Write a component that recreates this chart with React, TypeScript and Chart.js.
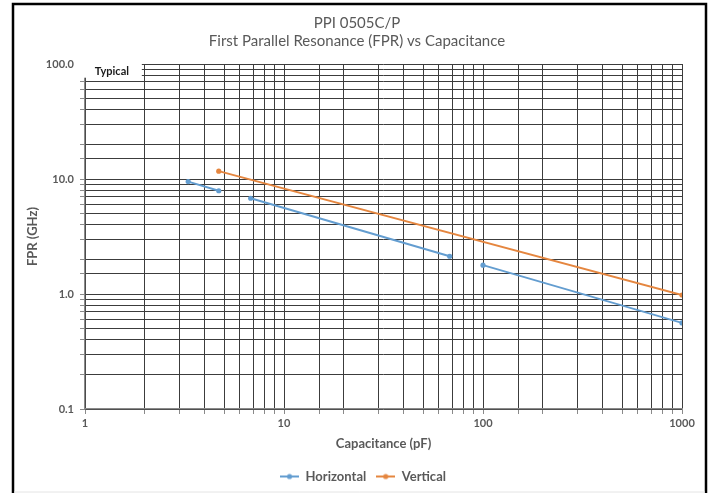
import React, { useEffect, useRef } from "react";
import { Chart, registerables } from "chart.js";

Chart.register(...registerables);

const titleLines = ["PPI 0505C/P", "First Parallel Resonance (FPR) vs Capacitance"];
const xAxisTitle = "Capacitance (pF)";
const yAxisTitle = "FPR (GHz)";
const annotationText = "Typical";

// Horizontal orientation: three separate segments (null breaks the line)
const horizontalCap = [3.3, 4.7, 5.6, 6.8, 68, 82, 100, 1000];
const horizontalFpr = [9.5, 7.9, null, 6.8, 2.13, null, 1.78, 0.56];

// Vertical orientation
const verticalCap = [4.7, 1000];
const verticalFpr = [11.7, 0.98];

const xRange = [1, 1000];
const yRange = [0.1, 100];

// "Typical" label box, in data units (right edge / bottom edge)
const typicalBoxXMax = 1.93;
const typicalBoxYMin = 76;

const blue = "#639dd0";
const orange = "#e5863f";
const grey = "#595959";
const FONT = "Lato, 'Open Sans', 'DejaVu Sans', sans-serif";

function isDecade(v: number) {
  const l = Math.log10(v);
  return Math.abs(l - Math.round(l)) < 1e-6;
}

function legendMarker(color: string) {
  const c = document.createElement("canvas");
  c.width = 19;
  c.height = 8;
  const ctx = c.getContext("2d")!;
  ctx.strokeStyle = color;
  ctx.lineWidth = 2;
  ctx.beginPath();
  ctx.moveTo(0, 4);
  ctx.lineTo(19, 4);
  ctx.stroke();
  ctx.fillStyle = color;
  ctx.beginPath();
  ctx.arc(9.5, 4, 2.6, 0, Math.PI * 2);
  ctx.fill();
  return c;
}

export default function App() {
  const ref = useRef<HTMLCanvasElement | null>(null);

  useEffect(() => {
    document.body.style.margin = "0";
    const canvas = ref.current;
    if (!canvas) return;

    const framePlugin = {
      id: "frame",
      afterLayout(chart: any) {
        // centre title and legend where the reference places them
        if (chart.titleBlock) {
          chart.titleBlock.left += 16;
          chart.titleBlock.right += 16;
        }
        if (chart.legend) {
          chart.legend.left += 22;
          chart.legend.right += 22;
        }
      },
      afterDraw(chart: any) {
        const { ctx } = chart;
        const xs = chart.scales.x;
        const ys = chart.scales.y;
        const area = chart.chartArea;
        // Typical label box
        const left = area.left - 5;
        const right = xs.getPixelForValue(typicalBoxXMax);
        const top = area.top - 12;
        const bottom = ys.getPixelForValue(typicalBoxYMin);
        ctx.save();
        ctx.fillStyle = "#ffffff";
        ctx.fillRect(left, top, right - left, bottom - top);
        ctx.fillStyle = "#1a1a1a";
        ctx.font = `bold 11px ${FONT}`;
        ctx.textAlign = "center";
        ctx.textBaseline = "middle";
        ctx.fillText(annotationText, (left + right) / 2 + 1, top + 19);
        // outer frame
        ctx.strokeStyle = "#000";
        ctx.lineWidth = 2.5;
        ctx.beginPath();
        ctx.moveTo(13, 493);
        ctx.lineTo(13, 4);
        ctx.lineTo(706, 4);
        ctx.lineTo(706, 493);
        ctx.stroke();
        ctx.strokeStyle = "#e4e4e4";
        ctx.lineWidth = 1;
        ctx.beginPath();
        ctx.moveTo(14, 492);
        ctx.lineTo(705, 492);
        ctx.stroke();
        ctx.restore();
      },
    };

    const gridOpts = {
      color: "#3c3c3c",
      lineWidth: 1,
      drawTicks: true,
      tickLength: 5,
      tickColor: "#8a8a8a",
    };

    const chart = new Chart(canvas, {
      type: "line",
      data: {
        datasets: [
          {
            label: "Horizontal",
            data: horizontalCap.map((x, i) => ({ x, y: horizontalFpr[i] as any })),
            borderColor: blue,
            backgroundColor: blue,
            borderWidth: 1.9,
            pointRadius: 2.6,
            pointHoverRadius: 2.6,
            pointBorderWidth: 0,
            spanGaps: false,
          },
          {
            label: "Vertical",
            data: verticalCap.map((x, i) => ({ x, y: verticalFpr[i] })),
            borderColor: orange,
            backgroundColor: orange,
            borderWidth: 1.9,
            pointRadius: 2.6,
            pointHoverRadius: 2.6,
            pointBorderWidth: 0,
          },
        ],
      },
      options: {
        animation: false,
        responsive: true,
        maintainAspectRatio: false,
        layout: { padding: { left: 0, right: 28, top: 0, bottom: 0 } },
        plugins: {
          title: {
            display: true,
            text: titleLines,
            color: grey,
            font: { family: FONT, size: 15, weight: "normal", lineHeight: 1.2 },
            padding: { top: 14, bottom: 14 },
          },
          legend: {
            display: true,
            position: "bottom",
            labels: {
              color: grey,
              font: { family: FONT, size: 13, weight: "bold" },
              usePointStyle: true,
              pointStyleWidth: 19,
              boxHeight: 8,
              padding: 10,
              generateLabels: (c: any) =>
                c.data.datasets.map((ds: any, i: number) => ({
                  text: ds.label,
                  fillStyle: ds.borderColor,
                  strokeStyle: ds.borderColor,
                  fontColor: grey,
                  lineWidth: 0,
                  pointStyle: legendMarker(ds.borderColor),
                  datasetIndex: i,
                  hidden: false,
                })),
            },
          },
          tooltip: { enabled: false },
        },
        scales: {
          x: {
            type: "logarithmic",
            min: xRange[0],
            max: xRange[1],
            afterFit: (s: any) => {
              s.height = 51;
            },
            border: { color: "#8a8a8a", width: 1.2 },
            grid: gridOpts,
            ticks: {
              autoSkip: false,
              maxRotation: 0,
              color: grey,
              padding: 3,
              font: { family: FONT, size: 11, weight: "bold" },
              callback: (v: any) => (isDecade(Number(v)) ? String(Math.round(Number(v))) : ""),
            },
            title: {
              display: true,
              text: xAxisTitle,
              color: grey,
              font: { family: FONT, size: 13, weight: "bold" },
              padding: { top: 4, bottom: 8 },
            },
          },
          y: {
            type: "logarithmic",
            min: yRange[0],
            max: yRange[1],
            afterFit: (s: any) => {
              s.width = 85;
            },
            border: { color: "#8a8a8a", width: 1.2 },
            grid: gridOpts,
            ticks: {
              autoSkip: false,
              color: grey,
              padding: 6,
              font: { family: FONT, size: 11, weight: "bold" },
              callback: (v: any) => (isDecade(Number(v)) ? Number(v).toFixed(1) : ""),
            },
            title: {
              display: true,
              text: yAxisTitle,
              color: grey,
              font: { family: FONT, size: 13, weight: "bold" },
              padding: { top: 25, bottom: 0 },
            },
          },
        },
      },
      plugins: [framePlugin],
    });

    return () => chart.destroy();
  }, []);

  return (
    <div style={{ position: "relative", width: 710, height: 493 }}>
      <canvas ref={ref} />
    </div>
  );
}
